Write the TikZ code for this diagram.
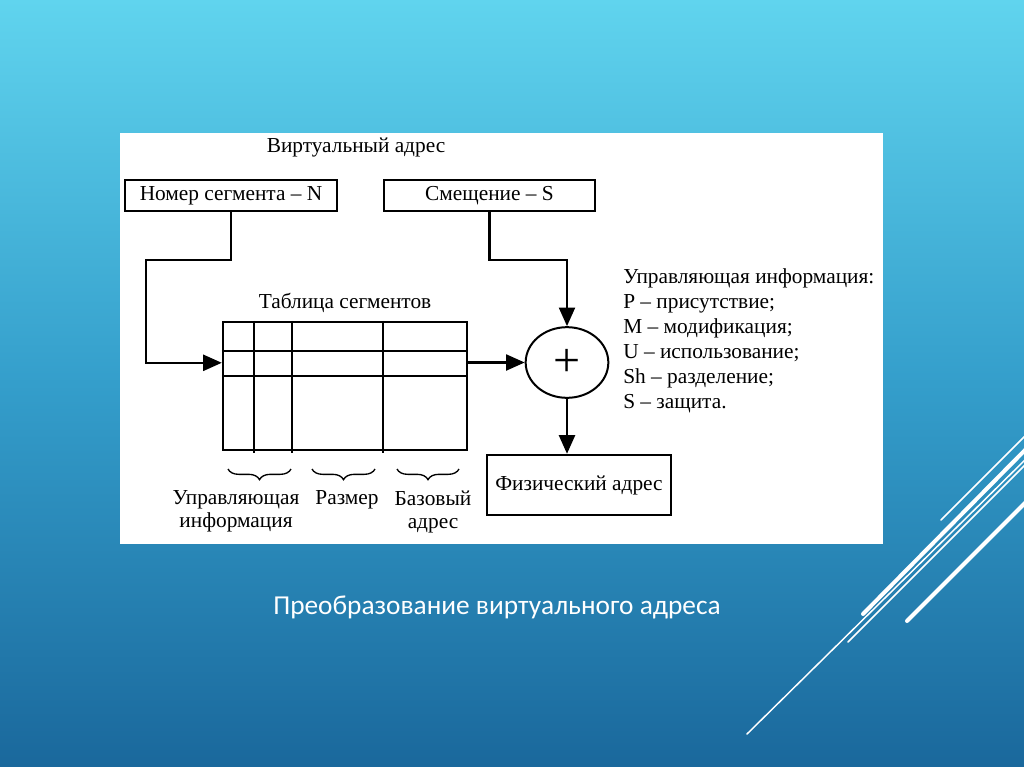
\documentclass[tikz,border=0pt]{standalone}
\usepackage{fontspec}
\setmainfont{Liberation Serif}
\newfontfamily\slidefont{Carlito}
\usetikzlibrary{arrows.meta, positioning, shapes.geometric, decorations.pathreplacing, calc}

\definecolor{slidetop}{RGB}{96,212,238}
\definecolor{slidemid}{RGB}{52,158,203}
\definecolor{slidebot}{RGB}{26,104,156}

\begin{document}
\begin{tikzpicture}[
    x=0.75pt, y=-0.75pt,
    box/.style={
      draw,
      line width=1.8pt,
      inner sep=0pt,
      font=\fontsize{16}{18}\selectfont
    },
    lbl/.style={font=\fontsize{16}{17.25}\selectfont, align=center, inner sep=0pt},
    conn/.style={line width=1.8pt},
    arrow/.style={-{Triangle[length=14pt,width=12pt]}, line width=1.8pt},
    brace/.style={decorate, decoration={brace, mirror, amplitude=8pt}, line width=1pt},
    deco/.style={white, line cap=round}
  ]
    \useasboundingbox (0,0) rectangle (1024,767);
    \clip (0,0) rectangle (1024,767);
    \shade[top color=slidetop, bottom color=slidebot, middle color=slidemid] (0,0) rectangle (1024,767);

    % slide ornament
    \draw[deco, line width=1.1pt] (941,520) -- (1030,431);
    \draw[deco, line width=3pt] (863,614) -- (1030,445);
    \draw[deco, line width=1.1pt] (747,734) -- (1030,455);
    \draw[deco, line width=1.1pt] (848,642) -- (1030,460);
    \draw[deco, line width=3pt] (907,621) -- (1030,498);

    \fill[white] (120,133) rectangle (883,544);

    \node[lbl] (virt) at (356,147) {Виртуальный адрес};
    \node[box, minimum width=159pt, minimum height=23.25pt] (segnum) at (231,195.5) {Номер сегмента – N};
    \node[box, minimum width=158.25pt, minimum height=23.25pt] (offset) at (489.5,195.5) {Смещение – S};

    \node[draw, line width=1.8pt, minimum width=183pt, minimum height=96pt, inner sep=0pt] (table) at (345,386) {};
    \node[lbl, above=6pt of table] (tabtitle) {Таблица сегментов};
    \foreach \cx in {32,70,161}
      \draw[conn] ($(table.north west)+(\cx,0)$) -- ($(table.south west)+(\cx,2)$);
    \foreach \ry in {30,55}
      \draw[conn] ($(table.north west)+(0,\ry)$) -- ($(table.north east)+(0,\ry)$);
    \coordinate (rowin) at ($(table.north west)+(0,42)$);

    \node[draw, ellipse, line width=1.5pt, minimum width=62pt, minimum height=53pt, inner sep=0pt,
      font=\fontsize{36}{36}\selectfont] (sum) at (567,362.5) {+};
    \node[box, minimum width=138pt, minimum height=45pt] (phys) at (579,485) {Физический адрес};

    \node[font=\fontsize{16}{18.75}\selectfont, inner sep=0pt, align=left, anchor=north west] (info) at (623,268) {Управляющая информация:\\P – присутствие;\\M – модификация;\\U – использование;\\Sh – разделение;\\S – защита.};

    \draw[brace] (228,469) -- (291,469);
    \draw[brace] (312,469) -- (375,469);
    \draw[brace] (397,469) -- (459,469);
    \node[lbl] (ctrl) at (236,511.5) {Управляющая\\информация};
    \node[lbl] (size) at (347,500) {Размер};
    \node[lbl] (base) at (433,511.5) {Базовый\\адрес};

    \coordinate (segturn) at (146,260);
    \draw[arrow] (segnum.south) |- (segturn) |- (rowin);
    \draw[arrow] (offset.south) |- (sum.north |- segturn) -- (sum.north);
    \draw[arrow] (table.east |- sum.west) -- (sum.west);
    \draw[arrow] (sum.south) -- (sum.south |- phys.north);

    \node[text=white, font=\slidefont\fontsize{20.5}{22}\selectfont] (caption) at (497,607) {Преобразование виртуального адреса};
  \end{tikzpicture}
\end{document}
